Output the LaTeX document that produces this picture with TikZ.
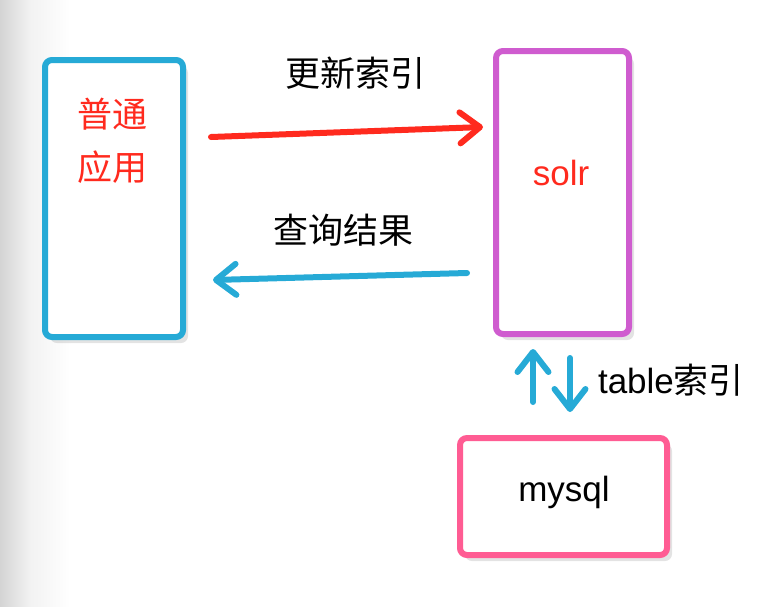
\documentclass[tikz,border=0pt]{standalone}
\usepackage{fontspec}
\setmainfont{Liberation Sans}
\newfontfamily\cjk{Noto Sans CJK SC}
\usepackage{xcolor}
\usetikzlibrary{arrows.meta,shadows}

\definecolor{appblue}{RGB}{38,170,214}
\definecolor{solrpurple}{RGB}{207,92,207}
\definecolor{sqlpink}{RGB}{255,92,147}
\definecolor{txtred}{RGB}{255,42,30}

\begin{document}
\begin{tikzpicture}[x=1pt,y=-1pt,
  box/.style={draw,line width=6pt,rounded corners=7pt,fill=white,
              drop shadow={opacity=0.22,shadow xshift=5pt,shadow yshift=-6pt}},
  lbl/.style={font=\fontsize{35}{53}\selectfont},
  cjklbl/.style={font=\cjk\fontsize{35}{53}\selectfont},
  arr/.style={line width=6pt,line cap=round,
              -{Straight Barb[length=20pt,width=31pt,round]}}]
  \useasboundingbox (0,0) rectangle (768,606);
  \shade[left color=black!17,right color=black!5] (0,0) rectangle (30,606);
  \shade[left color=black!5,right color=white] (30,0) rectangle (70,606);

  \node[box,draw=appblue,minimum width=138pt,minimum height=277pt] (app) at (114,198.5) {};
  \node[cjklbl,text=txtred,align=center] (applbl) at (112,141) {普通\\应用};
  \node[box,draw=solrpurple,minimum width=133pt,minimum height=283pt] (solr) at (562.5,192.5) {};
  \node[lbl,text=txtred] (solrlbl) at (561,173) {solr};
  \node[box,draw=sqlpink,minimum width=207pt,minimum height=117pt] (mysql) at (563.5,496.5) {};
  \node[lbl] (mysqllbl) at (564,492) {mysql};

  \draw[arr,txtred] ([xshift=25pt,yshift=61.5pt]app.east) -- ([xshift=-10pt,yshift=65.5pt]solr.west);
  \draw[arr,appblue] ([xshift=-26pt,yshift=-80.5pt]solr.west) -- ([xshift=27pt,yshift=-81.5pt]app.east);
  \draw[arr,appblue] ([xshift=-30.5pt,yshift=33pt]mysql.north) -- ([xshift=-29.5pt,yshift=-12pt]solr.south);
  \draw[arr,appblue] ([xshift=7.5pt,yshift=-21pt]solr.south) -- ([xshift=6.5pt,yshift=23pt]mysql.north);

  \node[cjklbl] (update) at (355,73) {更新索引};
  \node[cjklbl] (query) at (343,230) {查询结果};
  \node[lbl] (tbl) at (671,380) {table{\cjk 索引}};
\end{tikzpicture}
\end{document}
